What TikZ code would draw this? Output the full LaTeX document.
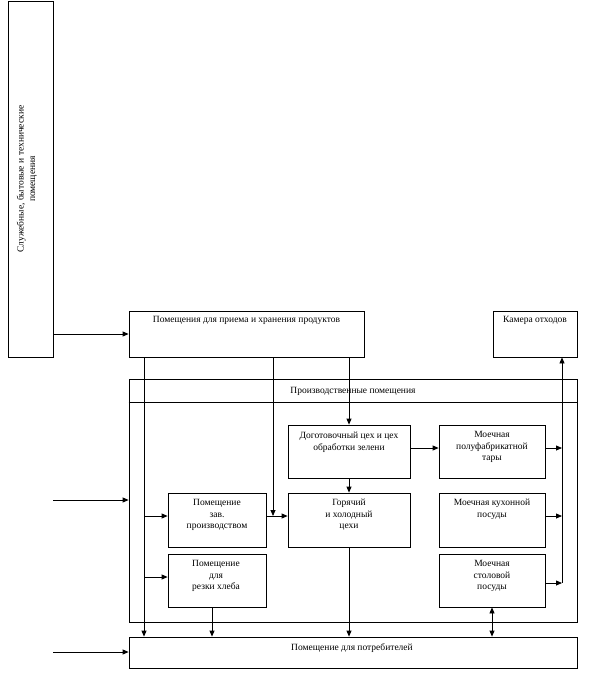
\documentclass[tikz,border=0pt]{standalone}
\usepackage{fontspec}
\setmainfont{Liberation Serif}
\usetikzlibrary{arrows.meta,fit}
\begin{document}
\begin{tikzpicture}[x=1pt,y=-1pt,line width=0.8pt,
  box/.style={draw,inner sep=0pt,line width=0.8pt},
  txt/.style={font=\fontsize{9.5}{11.5}\selectfont,align=center,inner sep=0pt,anchor=north},
  arr/.style={-{Triangle[length=6pt,width=5pt]}},
  darr/.style={{Triangle[length=6pt,width=5pt]}-{Triangle[length=6pt,width=5pt]}}]
\fill[white] (0,0) rectangle (606,675);
\useasboundingbox (0,0) rectangle (606,675);
% boxes
\node[box,fit={(8,1) (53,357)}] (serv) {};
\node[box,fit={(129,311) (364,357)}] (store) {};
\node[box,fit={(493,311) (577,357)}] (waste) {};
\node[box,fit={(129,379) (577,622)}] (prod) {};
\node[box,fit={(288,425) (410,478)}] (dog) {};
\node[box,fit={(439,425) (545,478)}] (mpt) {};
\node[box,fit={(168,493) (266,547)}] (zav) {};
\node[box,fit={(288,493) (410,547)}] (hot) {};
\node[box,fit={(439,493) (545,547)}] (mkp) {};
\node[box,fit={(168,554) (266,607)}] (bread) {};
\node[box,fit={(439,554) (545,607)}] (mst) {};
\node[box,fit={(129,637) (577,668)}] (cons) {};
% texts
\node[txt,rotate=90,anchor=center] (servt) at (27,179) {Служебные, бытовые и технические\\помещения};
\node[txt] (storet) at (246.5,316) {Помещения для приема и хранения продуктов};
\node[txt] (wastet) at (535,316) {Камера отходов};
\node[txt] (prodt) at (353,387) {Производственные помещения};
\node[txt] (dogt) at (349,432) {Доготовочный цех и цех\\обработки зелени};
\node[txt] (mptt) at (492,431) {Моечная\\полуфабрикатной\\тары};
\node[txt] (zavt) at (217,499) {Помещение\\зав.\\производством};
\node[txt] (hott) at (349,499) {Горячий\\и холодный\\цехи};
\node[txt] (mkpt) at (492,499) {Моечная кухонной\\посуды};
\node[txt] (breadt) at (216,560) {Помещение\\для\\резки хлеба};
\node[txt] (mstt) at (492,560) {Моечная\\столовой\\посуды};
\node[txt] (const) at (352,643) {Помещение для потребителей};
% header line
\coordinate (yH) at (0,402);
\draw (prod.west |- yH) -- (prod.east |- yH);
% helper coordinates
\coordinate (xA) at (144,0);
\coordinate (xB) at (273,0);
\coordinate (xH) at (212,0);
\coordinate (xR) at (562,0);
\coordinate (yZ) at (0,516);
\coordinate (yB) at (0,577);
\coordinate (yM) at (0,448);
\coordinate (yS) at (0,583);
\coordinate (inP) at (53,500);
\coordinate (inC) at (53,652);
% connectors
\draw[arr] (serv.east |- store.west) -- (store.west);
\draw[arr] (inP) -- (inP -| prod.west);
\draw[arr] (inC) -- (inC -| cons.west);
\draw[arr] (store.south -| xA) -- (cons.north -| xA);
\draw[arr] (xA |- yZ) -- (zav.west |- yZ);
\draw[arr] (xA |- yB) -- (bread.west |- yB);
\draw[arr] (store.south -| xB) -- (xB |- yZ);
\draw[arr] (zav.east |- yZ) -- (hot.west |- yZ);
\draw[arr] (store.south -| dog.north) -- (dog.north);
\draw[arr] (dog.south) -- (hot.north);
\draw[arr] (hot.south) -- (cons.north -| hot.south);
\draw[arr] (dog.east |- yM) -- (mpt.west |- yM);
\draw[arr] (mpt.east |- yM) -- (xR |- yM);
\draw[arr] (mkp.east |- yZ) -- (xR |- yZ);
\draw[arr] (mst.east |- yS) -- (xR |- yS);
\draw[arr] (xR |- yS) -- (waste.south -| xR);
\draw[arr] (bread.south -| xH) -- (cons.north -| xH);
\draw[darr] (mst.south) -- (cons.north -| mst.south);
\end{tikzpicture}
\end{document}
